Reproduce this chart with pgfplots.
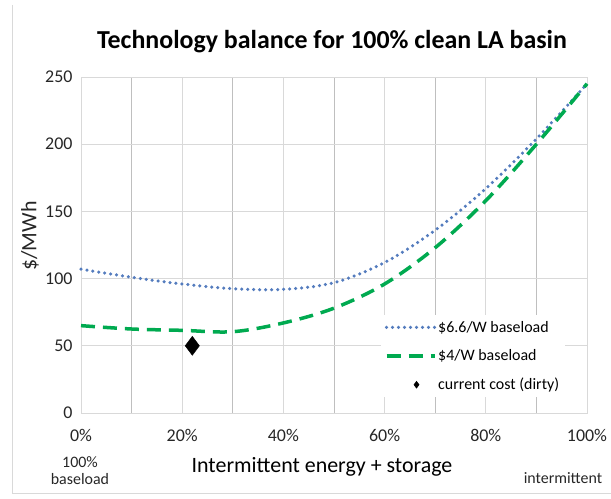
\documentclass[border=0pt]{standalone}
\usepackage{fontspec}
\setmainfont{Carlito}
\usepackage{pgfplots}
\pgfplotsset{compat=1.18}
\definecolor{blueS}{RGB}{84,124,190}
\definecolor{greenS}{RGB}{0,170,80}
\definecolor{gridL}{RGB}{217,217,217}
\definecolor{gridD}{RGB}{191,191,191}
\begin{document}
\begin{tikzpicture}
\path[use as bounding box] (0bp,0bp) rectangle (611bp,499bp);
\draw[gridL] (12bp,494bp) -- (12bp,6bp) -- (611bp,6bp);
\node[font=\fontsize{26}{30}\selectfont\bfseries] at (332bp,457bp) {Technology balance for 100\% clean LA basin};
\begin{axis}[
  at={(81bp,86bp)}, anchor=south west,
  width=506bp, height=336bp, scale only axis,
  xmin=0, xmax=100, ymin=0, ymax=250,
  xtick={0,20,...,100},
  minor xtick={10,30,...,90},
  ytick={0,50,...,250},
  xticklabels={0\%,20\%,40\%,60\%,80\%,100\%},
  grid=both,
  major grid style={gridL, line width=0.8bp},
  minor grid style={gridD, line width=0.8bp},
  axis line style={gridL, line width=0.8bp},
  tick style={draw=none},
  tick label style={font=\fontsize{18}{21}\selectfont, text=black!85},
  /pgf/number format/assume math mode=true,
  xticklabel style={yshift=-13bp},
  yticklabel style={xshift=-5bp},
  xlabel={Intermittent energy + storage},
  xlabel style={font=\fontsize{22}{26}\selectfont, at={(axis description cs:0.5,0)}, anchor=center, yshift=-54bp, xshift=-12bp},
  legend style={at={(rel axis cs:0.592,0.292)}, anchor=north west, draw=none, fill=white,
    font=\fontsize{16}{19}\selectfont, row sep=12bp, inner xsep=4bp, inner ysep=4bp},
  legend cell align=left,
  legend image code/.code={\draw[#1] (0bp,0bp) -- (48bp,0bp);},
  clip=false,
]
\addplot[blueS, line width=3.5bp, line cap=round, dash pattern=on 0bp off 6bp, smooth, tension=0.55] coordinates {
(0,107) (10,101) (20,96) (30,92.5) (40,92) (50,97) (60,112) (70,136) (80,167) (90,204) (100,245)};
\addlegendentry{\$6.6/W baseload}
\addplot[greenS, line width=3.5bp, dash pattern=on 14bp off 8bp, smooth, tension=0.55] coordinates {
(0,65) (10,62.5) (20,61.5) (30,60.5) (40,67) (50,78) (60,96) (70,123) (80,158) (90,200) (100,245)};
\addlegendentry{\$4/W baseload}
\addplot[only marks, mark=diamond*, mark size=9.5bp, black, legend image code/.code={\draw[black, fill=black] plot[mark=diamond*, mark size=3.5bp] coordinates {(30bp,0bp)};}] coordinates {(22,50)};
\addlegendentry{current cost (dirty)}
\end{axis}
\node[rotate=90, font=\fontsize{22}{26}\selectfont, text=black!85] at (30bp,263bp) {\$/MWh};
\node[font=\fontsize{16}{17}\selectfont, align=center, text=black!85] at (80bp,28bp) {100\%\\baseload};
\node[font=\fontsize{16}{17}\selectfont, text=black!85] at (563bp,21bp) {intermittent};
\end{tikzpicture}
\end{document}
